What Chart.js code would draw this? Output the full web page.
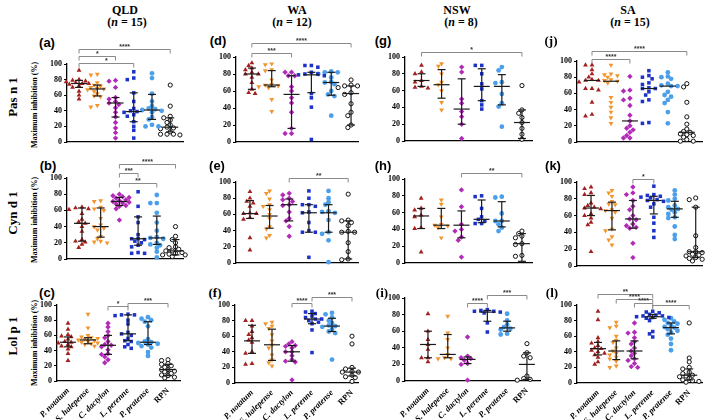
<!DOCTYPE html>
<html>
<head>
<meta charset="utf-8">
<script src="https://cdn.jsdelivr.net/npm/chart.js@4.4.1/dist/chart.umd.min.js"></script>
<style>
body { margin: 0; background: #fff; }
#wrap { position: relative; width: 709px; height: 420px; overflow: hidden; font-family: "Liberation Serif", serif; }
.t { position: absolute; font-weight: bold; white-space: nowrap; transform: translate(-50%, -50%); line-height: 1; color: #000; }
.rot { transform: translate(-50%, -50%) rotate(-90deg); }
canvas { position: absolute; }
</style>
</head>
<body>
<div id="wrap"></div>
<script>
const species = ['P. notatum', 'S. halepense', 'C. dactylon', 'L. perenne', 'P. pratense', 'RPN'];
const regions = ['QLD', 'WA', 'NSW', 'SA'];
const regionN = [15, 12, 8, 15];
const allergens = ['Pas n 1', 'Cyn d 1', 'Lol p 1'];

// ---- Pas n 1 ----
const qldPas = [
    [92, 80, 79, 78, 77, 76, 75, 75, 74, 73, 72, 70, 65, 60, 55],
    [87, 86, 76, 73, 72, 70, 69, 68, 67, 65, 62, 59, 58, 47, 45],
    [79, 78, 70, 57, 55, 52, 50, 48, 44, 38, 32, 25, 18, 12, 5],
    [90, 82, 80, 63, 52, 43, 40, 39, 38, 35, 33, 26, 20, 15, 5],
    [88, 82, 62, 52, 46, 43, 42, 41, 40, 38, 32, 29, 22, 20, 20],
    [73, 46, 33, 31, 28, 25, 22, 19, 18, 17, 13, 10, 10, 10, 9]
];
const qldPasMed = [75, 68, 50, 39, 41, 19];
const qldPasIqr = [[70, 79], [59, 73], [32, 57], [26, 63], [29, 61], [13, 31]];
const qldPasSig = [[0, 5, '****'], [0, 2, '*'], [0, 3, '*']];

const waPas = [
    [93, 90, 87, 85, 82, 80, 80, 76, 70, 62, 58, 57],
    [92, 91, 85, 84, 73, 68, 67, 66, 65, 64, 50, 36],
    [82, 82, 78, 78, 65, 60, 52, 46, 35, 16, 10, 10],
    [90, 90, 88, 82, 80, 80, 79, 78, 57, 52, 41, 3],
    [83, 82, 82, 80, 76, 71, 70, 68, 60, 56, 54, 31],
    [73, 67, 66, 66, 64, 58, 56, 45, 35, 31, 20, 17]
];
const waPasMed = [80, 67, 56, 79, 70, 57];
const waPasIqr = [[62, 87], [65, 84], [16, 78], [58, 82], [55, 82], [20, 66]];
const waPasSig = [[0, 5, '****'], [0, 2, '***']];

const nswPas = [
    [90, 82, 80, 72, 70, 65, 64, 63],
    [92, 89, 80, 70, 67, 60, 46, 37],
    [88, 82, 50, 45, 35, 29, 20, 3],
    [90, 90, 80, 68, 62, 48, 43, 38],
    [88, 84, 70, 69, 56, 45, 41, 17],
    [66, 37, 33, 28, 22, 15, 8, 2]
];
const nswPasMed = [72, 67, 38, 65, 65, 22];
const nswPasIqr = [[65, 80], [51, 85], [20, 74], [48, 86], [43, 79], [3, 37]];
const nswPasSig = [[0, 5, '*']];

const saPas = [
    [95, 95, 89, 84, 80, 77, 76, 76, 74, 66, 66, 64, 49, 34, 32],
    [95, 84, 83, 82, 80, 77, 76, 75, 73, 55, 49, 43, 37, 30, 23],
    [81, 64, 63, 54, 52, 45, 33, 26, 20, 17, 15, 12, 8, 5, 5],
    [88, 82, 80, 78, 73, 71, 67, 66, 66, 62, 58, 52, 50, 24, 23],
    [86, 81, 80, 78, 72, 70, 69, 69, 62, 58, 56, 52, 48, 37, 23],
    [72, 68, 49, 31, 22, 16, 13, 12, 10, 9, 8, 6, 3, 1, 1]
];
const saPasMed = [76, 75, 26, 66, 69, 12];
const saPasIqr = null;
const saPasSig = [[0, 5, '****'], [0, 2, '****']];

// ---- Cyn d 1 ----
const qldCyn = [
    [64, 63, 62, 61, 56, 49, 46, 44, 40, 34, 24, 22, 21, 18, 14],
    [72, 71, 64, 62, 60, 50, 42, 40, 38, 36, 28, 25, 22, 21, 20],
    [80, 78, 77, 76, 75, 73, 72, 71, 70, 69, 68, 66, 65, 62, 48],
    [83, 65, 52, 45, 30, 25, 25, 24, 22, 20, 17, 15, 8, 7, 7],
    [79, 69, 69, 57, 45, 35, 27, 26, 25, 20, 18, 17, 14, 9, 2],
    [40, 28, 24, 20, 15, 14, 12, 10, 10, 8, 7, 6, 5, 5, 3]
];
const qldCynMed = [44, 40, 71, 25, 26, 10];
const qldCynIqr = [[22, 63], [27, 63], [66, 76], [17, 52], [18, 53], [5, 24]];
const qldCynSig = [[2, 5, '****'], [2, 3, '***'], [2, 4, '**']];

const waCyn = [
    [88, 80, 76, 74, 70, 62, 61, 61, 56, 54, 31, 16],
    [89, 86, 79, 72, 70, 66, 60, 55, 45, 42, 34, 31],
    [86, 84, 80, 78, 76, 72, 71, 63, 55, 52, 45, 33],
    [89, 80, 72, 72, 70, 63, 62, 50, 40, 38, 38, 7],
    [89, 80, 75, 72, 64, 63, 62, 53, 38, 36, 28, 1],
    [85, 53, 52, 50, 46, 39, 38, 38, 25, 14, 5, 4]
];
const waCynMed = [61, 58, 72, 62, 62, 38];
const waCynIqr = [[55, 77], [43, 71], [52, 79], [38, 72], [38, 72], [5, 52]];
const waCynSig = [[2, 5, '**']];

const nswCyn = [
    [77, 65, 63, 57, 55, 42, 41, 13],
    [75, 70, 55, 46, 45, 44, 42, 30],
    [87, 67, 46, 40, 38, 31, 27, 7],
    [80, 79, 65, 55, 52, 50, 47, 47],
    [79, 78, 59, 50, 50, 46, 42, 38],
    [38, 35, 32, 30, 23, 22, 9, 8]
];
const nswCynMed = [56, 45, 45, 52, 50, 23];
const nswCynIqr = [[41, 65], [41, 65], [30, 62], [48, 75], [43, 73], [2, 35]];
const nswCynSig = [[2, 5, '**']];

const saCyn = [
    [94, 92, 87, 85, 75, 72, 70, 69, 68, 62, 60, 57, 52, 49, 17],
    [90, 87, 83, 77, 74, 73, 67, 66, 64, 57, 44, 42, 35, 31, 25],
    [94, 87, 85, 78, 71, 67, 60, 56, 55, 50, 48, 46, 45, 27, 10],
    [95, 85, 84, 83, 82, 81, 79, 78, 77, 74, 70, 58, 51, 42, 34],
    [90, 85, 80, 78, 72, 70, 68, 67, 64, 62, 58, 57, 47, 37, 32],
    [81, 79, 70, 36, 22, 17, 17, 16, 14, 13, 12, 10, 9, 8, 6]
];
const saCynMed = [69, 66, 56, 78, 68, 17];
const saCynIqr = [[60, 84], [43, 76], [45, 78], [62, 83], [58, 77], [10, 70]];
const saCynSig = [[2, 3, '*']];

// ---- Lol p 1 ----
const qldLol = [
    [76, 68, 61, 59, 58, 55, 52, 51, 50, 48, 46, 45, 42, 36, 27],
    [88, 70, 60, 58, 57, 56, 55, 54, 53, 52, 51, 50, 49, 48, 46],
    [76, 71, 65, 60, 57, 52, 48, 47, 45, 41, 36, 35, 32, 28, 24],
    [88, 87, 87, 86, 80, 75, 64, 62, 60, 56, 53, 52, 48, 45, 43],
    [84, 82, 80, 78, 72, 55, 52, 51, 50, 49, 48, 46, 44, 38, 33],
    [28, 27, 23, 22, 20, 18, 15, 15, 13, 12, 10, 8, 7, 5, 4]
];
const qldLolMed = [51, 54, 47, 62, 51, 15];
const qldLolIqr = [[45, 58], [49, 57], [35, 60], [53, 87], [48, 78], [7, 22]];
const qldLolSig = [[2, 3, '*'], [3, 5, '***']];

const waLol = [
    [80, 80, 73, 66, 62, 58, 55, 52, 40, 38, 25, 24],
    [78, 76, 73, 70, 62, 54, 49, 45, 36, 30, 26, 22],
    [53, 50, 48, 47, 45, 40, 40, 35, 30, 28, 27, 4],
    [92, 91, 89, 86, 84, 82, 82, 80, 78, 76, 68, 39],
    [90, 88, 84, 80, 77, 74, 73, 72, 69, 66, 64, 30],
    [60, 50, 20, 18, 15, 14, 14, 13, 10, 8, 7, 2]
];
const waLolMed = [54, 49, 40, 82, 73, 14];
const waLolIqr = [[38, 74], [29, 69], [28, 48], [76, 89], [66, 83], [9, 19]];
const waLolSig = [[2, 3, '****'], [3, 5, '***']];

const nswLol = [
    [81, 60, 50, 44, 38, 28, 28, 23],
    [78, 58, 50, 40, 32, 28, 27, 27],
    [53, 30, 28, 27, 25, 21, 20, 1],
    [86, 85, 84, 84, 83, 82, 70, 59],
    [81, 73, 68, 65, 63, 62, 57, 56],
    [45, 34, 30, 28, 6, 3, 2, 1]
];
const nswLolMed = [44, 32, 26, 83, 64, 20];
const nswLolIqr = [[28, 60], [28, 56], [21, 29], [72, 85], [60, 72], [2, 34]];
const nswLolSig = [[2, 3, '****'], [3, 5, '***']];

const saLol = [
    [92, 81, 58, 53, 51, 48, 45, 44, 42, 40, 38, 36, 33, 27, 24],
    [78, 73, 71, 60, 55, 52, 45, 41, 38, 36, 33, 31, 28, 22, 20],
    [77, 65, 64, 58, 53, 50, 45, 41, 38, 35, 31, 29, 25, 21, 20],
    [92, 91, 90, 88, 87, 86, 86, 85, 84, 84, 83, 80, 66, 63, 59],
    [83, 81, 79, 77, 76, 74, 72, 71, 69, 67, 65, 62, 57, 50, 42],
    [77, 32, 27, 20, 18, 14, 12, 10, 9, 8, 6, 4, 3, 2, 1]
];
const saLolMed = [44, 41, 41, 85, 71, 10];
const saLolIqr = [[36, 52], [30, 54], [31, 54], [83, 88], [63, 77], [4, 18]];
const saLolSig = [[0, 3, '**'], [1, 3, '****'], [2, 3, '****'], [3, 5, '****']];

// marker looks, one per species
const styles = [
    { shape: 'triangle', rot: 0, r: 2.8, fill: '#A3201F', line: '#A3201F', bw: 0 },
    { shape: 'triangle', rot: 180, r: 2.8, fill: '#F2952D', line: '#F2952D', bw: 0 },
    { shape: 'rectRot', rot: 0, r: 2.7, fill: '#B22BB8', line: '#B22BB8', bw: 0 },
    { shape: 'rect', rot: 0, r: 2.5, fill: '#1D33C8', line: '#1D33C8', bw: 0 },
    { shape: 'circle', rot: 0, r: 2.4, fill: '#4C9FEA', line: '#4C9FEA', bw: 0 },
    { shape: 'circle', rot: 0, r: 2.1, fill: '#ffffff', line: '#111111', bw: 1 }
];

// panel layout: box = [axis x, plot right, y of 100, y of 0]
const panels = [
    { letter: '(a)', lx: 47, ly: 42, sans: true, pts: qldPas, med: qldPasMed, iqr: qldPasIqr, sig: qldPasSig, sigOff: [15, 8, 1], box: [67, 183, 64, 142], xr: [-0.66, 5.7] },
    { letter: '(d)', lx: 218, ly: 40, sans: true, pts: waPas, med: waPasMed, iqr: waPasIqr, sig: waPasSig, sigOff: [14, 4], box: [236, 358, 57, 142], xr: [-0.8, 5.35] },
    { letter: '(g)', lx: 383, ly: 40, sans: true, pts: nswPas, med: nswPasMed, iqr: nswPasIqr, sig: nswPasSig, sigOff: [5], box: [405, 532, 57, 141], xr: [-0.82, 5.5] },
    { letter: '(j)', lx: 551, ly: 40, sans: false, pts: saPas, med: saPasMed, iqr: saPasIqr, sig: saPasSig, sigOff: [10, 2], box: [577, 702, 61, 142], xr: [-0.79, 5.8] },
    { letter: '(b)', lx: 48, ly: 165, sans: true, pts: qldCyn, med: qldCynMed, iqr: qldCynIqr, sig: qldCynSig, sigOff: [14, 5, -5], box: [67, 183, 178, 259], xr: [-0.8, 5.4] },
    { letter: '(e)', lx: 217, ly: 165, sans: true, pts: waCyn, med: waCynMed, iqr: waCynIqr, sig: waCynSig, sigOff: [4], box: [236, 358, 182, 263], xr: [-0.71, 5.5] },
    { letter: '(h)', lx: 383, ly: 165, sans: true, pts: nswCyn, med: nswCynMed, iqr: nswCynIqr, sig: nswCynSig, sigOff: [6], box: [405, 532, 179, 263], xr: [-0.8, 5.5] },
    { letter: '(k)', lx: 553, ly: 165, sans: true, pts: saCyn, med: saCynMed, iqr: saCynIqr, sig: saCynSig, sigOff: [3], box: [577, 702, 182, 266], xr: [-0.67, 5.3] },
    { letter: '(c)', lx: 47, ly: 292, sans: true, pts: qldLol, med: qldLolMed, iqr: qldLolIqr, sig: qldLolSig, sigOff: [-1, 2], box: [57, 180, 305, 381], xr: [-0.55, 5.6] },
    { letter: '(f)', lx: 215, ly: 292, sans: false, pts: waLol, med: waLolMed, iqr: waLolIqr, sig: waLolSig, sigOff: [2, 8], box: [235, 358, 305, 383], xr: [-0.85, 5.3] },
    { letter: '(i)', lx: 382, ly: 292, sans: false, pts: nswLol, med: nswLolMed, iqr: nswLolIqr, sig: nswLolSig, sigOff: [-5, 3], box: [405, 540, 298, 381], xr: [-1.16, 5.66] },
    { letter: '(l)', lx: 552, ly: 292, sans: false, pts: saLol, med: saLolMed, iqr: saLolIqr, sig: saLolSig, sigOff: [11, 6, 2, 0], box: [577, 702, 305, 383], xr: [-1.15, 5.7] }
];

const wrap = document.getElementById('wrap');

function addText(html, x, y, size, extra) {
    const d = document.createElement('div');
    d.className = 't' + (extra && extra.rot ? ' rot' : '');
    d.innerHTML = html;
    d.style.left = x + 'px';
    d.style.top = y + 'px';
    d.style.fontSize = size + 'px';
    if (extra && extra.family) d.style.fontFamily = extra.family;
    wrap.appendChild(d);
}

// column headers
const headX = [[125, 127], [297, 292], [457, 461], [628, 630]];
regions.forEach((r, i) => {
    addText(r, headX[i][0], 10, 12);
    addText('(<i>n</i> = ' + regionN[i] + ')', headX[i][1], 22, 12);
});

// row labels and y titles
const rowY = [97, 213, 336];
const titleY = [105, 220, 343];
allergens.forEach((a, i) => {
    addText(a, 12, rowY[i], 13, { rot: true });
    addText('Maximum inhibition (%)', 35, titleY[i], 8, { rot: true });
});

// simple beeswarm: spread points sideways when they would overlap
function swarm(vals, ci, pxX, pxY) {
    const d = 3.8;
    const placed = [];
    const out = [];
    vals.forEach(v => {
        for (let k = 0; k < 30; k++) {
            const off = k === 0 ? 0 : (k % 2 ? -1 : 1) * Math.ceil(k / 2) * d * 0.85;
            const ok = placed.every(p => Math.hypot(p.dx - off, (p.v - v) * pxY) >= d);
            if (ok) {
                placed.push({ dx: off, v });
                out.push({ x: ci + off / pxX, y: v });
                break;
            }
        }
    });
    return out;
}

const L = 42, T = 32, R = 6;

panels.forEach((p, idx) => {
    const row = Math.floor(idx / 4);
    const [x0, x1, t, b] = p.box;
    const B = row === 2 ? 44 : 6;
    const w = x1 - x0 + L + R, h = b - t + T + B;

    addText(p.letter, p.lx, p.ly, 13, { family: p.sans ? '"Liberation Sans", Arial, sans-serif' : '"Liberation Serif", serif' });

    const cv = document.createElement('canvas');
    cv.width = w; cv.height = h;
    cv.style.left = (x0 - L) + 'px';
    cv.style.top = (t - T) + 'px';
    cv.style.width = w + 'px';
    cv.style.height = h + 'px';
    wrap.appendChild(cv);

    const pxX = (x1 - x0) / (p.xr[1] - p.xr[0]);
    const pxY = (b - t) / 100;

    const datasets = p.pts.map((vals, i) => ({
        label: species[i],
        data: swarm(vals, i, pxX, pxY),
        pointStyle: styles[i].shape,
        rotation: styles[i].rot,
        pointRadius: styles[i].r,
        backgroundColor: styles[i].fill,
        borderColor: styles[i].line,
        borderWidth: styles[i].bw,
        clip: false
    }));

    const errorBars = {
        id: 'errorBars',
        afterDatasetsDraw(chart) {
            const { ctx, scales: { x, y } } = chart;
            ctx.save();
            ctx.strokeStyle = '#1a1a1a';
            ctx.lineWidth = 1.2;
            const seg = (ax, ay, bx, by) => { ctx.beginPath(); ctx.moveTo(ax, ay); ctx.lineTo(bx, by); ctx.stroke(); };
            p.med.forEach((m, i) => {
                const cx = x.getPixelForValue(i);
                if (p.iqr) {
                    const yl = y.getPixelForValue(p.iqr[i][0]);
                    const yh = y.getPixelForValue(p.iqr[i][1]);
                    seg(cx, yl, cx, yh);
                    seg(cx - 4, yl, cx + 4, yl);
                    seg(cx - 4, yh, cx + 4, yh);
                }
                const ym = y.getPixelForValue(m);
                seg(cx - 8, ym, cx + 8, ym);
            });
            ctx.restore();
        }
    };

    const sigBrackets = {
        id: 'sigBrackets',
        afterDraw(chart) {
            const { ctx, chartArea, scales: { x } } = chart;
            ctx.save();
            p.sig.forEach(([a, c, s], k) => {
                const yy = Math.round(chartArea.top - p.sigOff[k]) + 0.5;
                const xa = x.getPixelForValue(a), xc = x.getPixelForValue(c);
                ctx.strokeStyle = '#8a8a8a';
                ctx.lineWidth = 1;
                ctx.beginPath();
                ctx.moveTo(xa, yy + 4); ctx.lineTo(xa, yy); ctx.lineTo(xc, yy); ctx.lineTo(xc, yy + 4);
                ctx.stroke();
                ctx.fillStyle = '#333';
                ctx.font = 'bold 7px "Liberation Sans", Arial, sans-serif';
                ctx.textAlign = 'center';
                ctx.textBaseline = 'bottom';
                ctx.fillText(s, (xa + xc) / 2, yy + 1);
            });
            ctx.restore();
        }
    };

    new Chart(cv, {
        type: 'scatter',
        data: { datasets },
        options: {
            responsive: false,
            animation: false,
            devicePixelRatio: 1,
            layout: { padding: { left: L - 20, top: T, right: R, bottom: 0 } },
            plugins: { legend: { display: false }, tooltip: { enabled: false } },
            scales: {
                x: {
                    type: 'linear',
                    min: p.xr[0],
                    max: p.xr[1],
                    afterBuildTicks: s => {
                        s.ticks = row === 2 ? species.map((_, i) => ({ value: i })) : [{ value: (p.xr[0] + p.xr[1]) / 2 }];
                    },
                    afterFit: s => { s.height = B; s.paddingLeft = 0; s.paddingRight = 0; },
                    ticks: {
                        display: row === 2,
                        autoSkip: false,
                        minRotation: 45,
                        maxRotation: 45,
                        padding: 2,
                        color: '#000',
                        callback: v => species[v],
                        font: c => ({ family: '"Liberation Serif", serif', weight: 'bold', size: 8.5, style: c.index < 5 ? 'italic' : 'normal' })
                    },
                    grid: { display: row !== 2, drawOnChartArea: false, tickLength: 3, color: '#000' },
                    border: { color: '#000', width: 1.3 }
                },
                y: {
                    min: 0,
                    max: 100,
                    afterFit: s => { s.width = 20; s.paddingTop = 0; s.paddingBottom = 0; },
                    ticks: { stepSize: 20, color: '#000', padding: 2, font: { family: '"Liberation Serif", serif', weight: 'bold', size: 8 } },
                    grid: { drawOnChartArea: false, tickLength: 3, color: '#000' },
                    border: { color: '#000', width: 1.3 }
                }
            }
        },
        plugins: [errorBars, sigBrackets]
    });
});
</script>
</body>
</html>
